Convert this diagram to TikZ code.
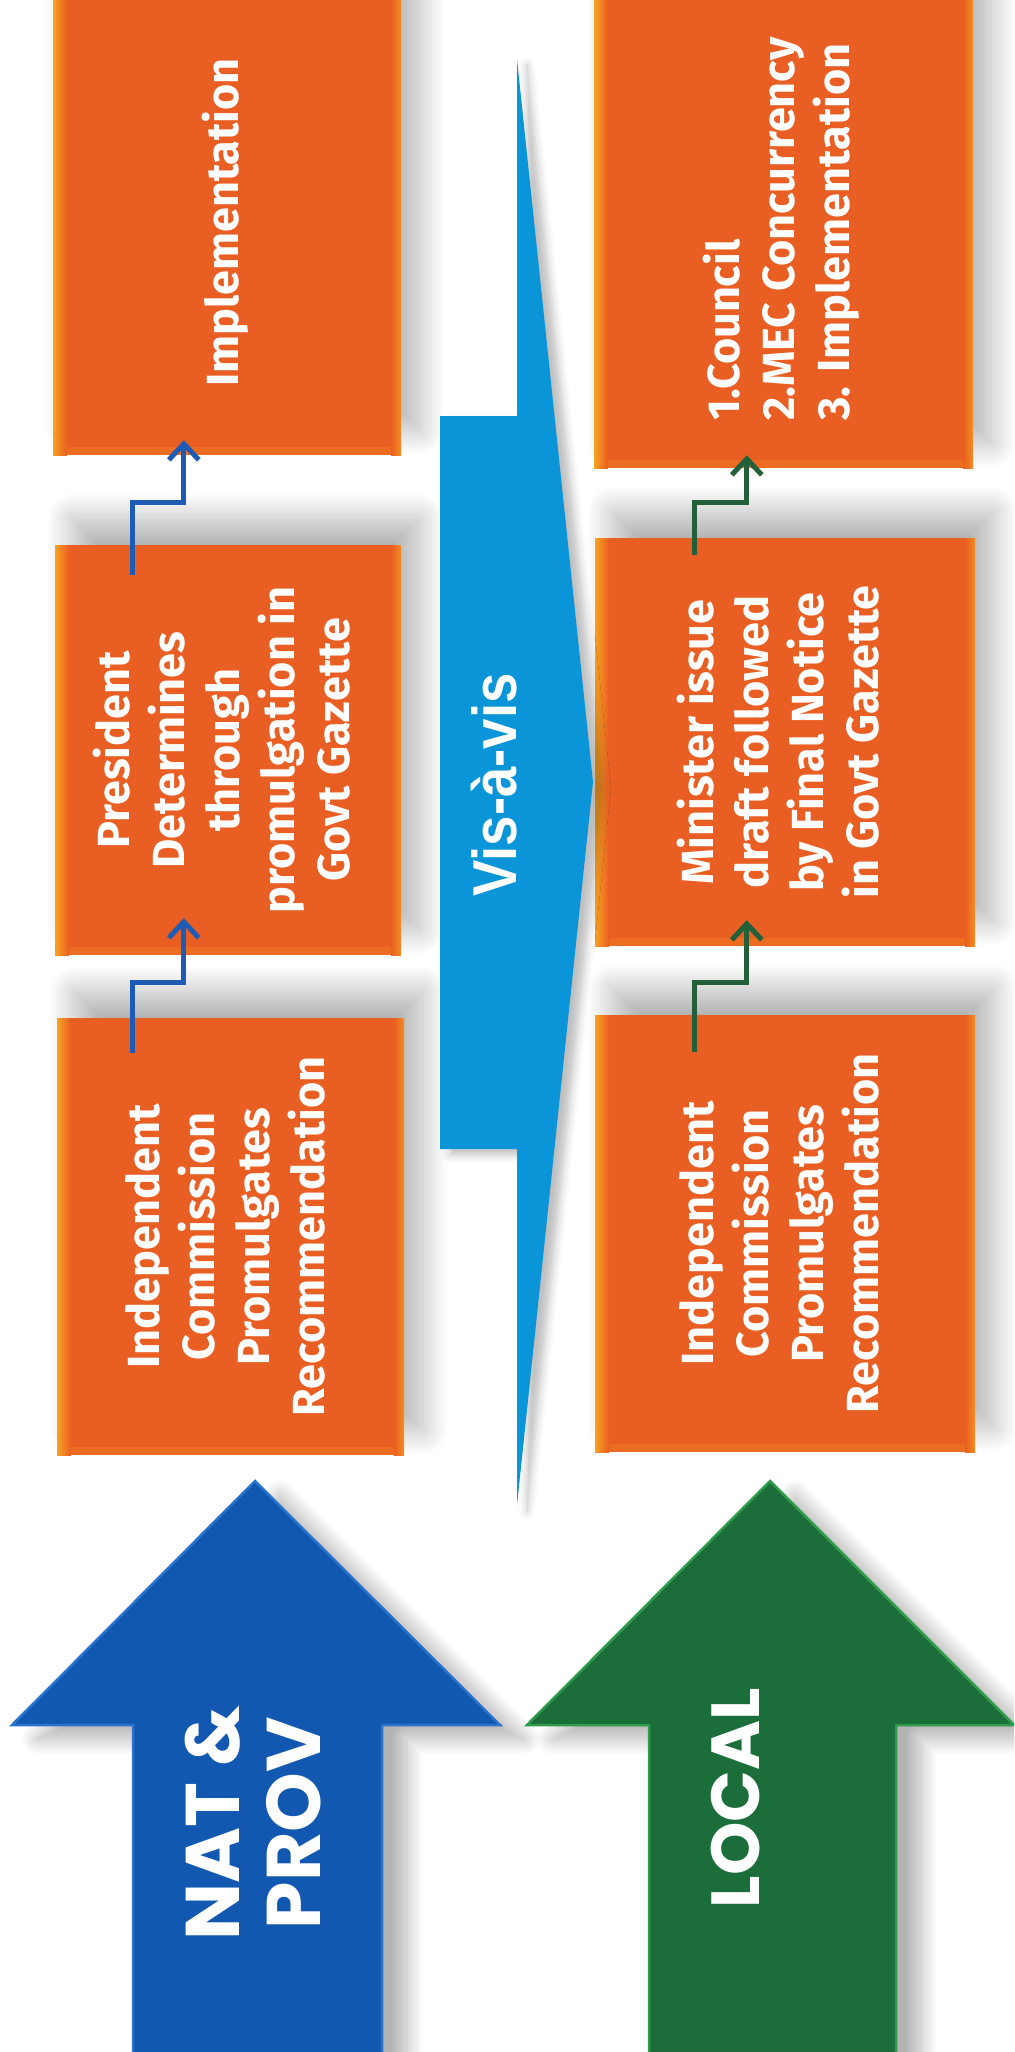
\documentclass[tikz,border=0pt]{standalone}
\usepackage{fontspec}
\setmainfont{Fira Sans}
\newfontfamily\arrowfont{Poppins}
\newfontfamily\visfont{Liberation Sans}
\usepackage{graphicx}
\usetikzlibrary{calc}
\usetikzlibrary{arrows.meta}
\usetikzlibrary{shadows.blur}

\definecolor{boxorange}{HTML}{E95E22}
\definecolor{boxedge}{HTML}{F6A322}
\definecolor{natblue}{HTML}{1257B0}
\definecolor{natedge}{HTML}{2A72CC}
\definecolor{natline}{HTML}{1D5BB4}
\definecolor{visblue}{HTML}{0A95D9}
\definecolor{locgreen}{HTML}{1B6D3A}
\definecolor{locedge}{HTML}{2E9A4B}
\definecolor{locline}{HTML}{235F38}

% rotated text blocks, centred or flush left
\newcommand{\vtext}[1]{\rotatebox{90}{\begin{tabular}{@{}c@{}}#1\end{tabular}}}
\newcommand{\vltext}[1]{\rotatebox{90}{\begin{tabular}{@{}l@{}}#1\end{tabular}}}

\begin{document}
\begin{tikzpicture}[x=1pt,y=-1pt,>={Straight Barb[length=16pt,width=30pt]},
    stepbox/.style={rectangle,inner sep=0pt,fill=boxorange,text=white,
      font=\bfseries\fontsize{45}{55}\selectfont,
      blur shadow={shadow xshift=18pt,shadow yshift=26pt,shadow blur radius=26pt,shadow blur steps=30,shadow opacity=30},
      path picture={
        \fill[boxorange!80!boxedge] (path picture bounding box.south west) rectangle ([yshift=8pt]path picture bounding box.south east);
        \shade[left color=boxedge,right color=boxorange] (path picture bounding box.south west) rectangle ([xshift=14pt]path picture bounding box.north west);
        \shade[left color=boxorange,right color=boxedge!70!boxorange] ([xshift=-10pt]path picture bounding box.south east) rectangle (path picture bounding box.north east);
      }},
    bigarrow/.style={line width=2.5pt,line join=miter,
      blur shadow={shadow xshift=25pt,shadow yshift=-14pt,shadow blur radius=16pt,shadow blur steps=25,shadow opacity=30}},
    biglabel/.style={text=white,inner sep=0pt,font=\arrowfont\bfseries}]
  \useasboundingbox (0,0) rectangle (1014,2052);
  \clip (0,0) rectangle (1014,2052);

  % national and provincial steps
  \node[stepbox,minimum width=348pt,minimum height=465pt] (nat3) at (227,222.5) {\vtext{Implementation}};
  \node[stepbox,minimum width=346pt,minimum height=410pt] (nat2) at (228,750) {\vtext{President\\Determines\\through\\promulgation in\\Govt Gazette}};
  \node[stepbox,minimum width=347pt,minimum height=437pt] (nat1) at (230.5,1236.5) {\vtext{Independent\\Commission\\Promulgates\\Recommendation}};

  % local steps
  \node[stepbox,minimum width=379pt,minimum height=478pt] (loc3) at (783.5,229) {\vltext{1.Council\\2.MEC Concurrency\\3. Implementation}};
  \node[stepbox,minimum width=380pt,minimum height=408pt] (loc2) at (785,742) {\vtext{Minister issue\\draft followed\\by Final Notice\\in Govt Gazette}};
  \node[stepbox,minimum width=380pt,minimum height=437pt] (loc1) at (785,1233.5) {\vtext{Independent\\Commission\\Promulgates\\Recommendation}};

  \draw[->,line width=5pt,color=natline] ($(nat1.north west)+(76,35)$) -- ++(0,-70) -- ++(51,0) -- ($(nat2.south west)+(129,-37)$);
  \draw[->,line width=5pt,color=natline] ($(nat2.north west)+(78,30)$) -- ++(0,-72) -- ++(51,0) -- ($(nat3.south west)+(131,-15)$);
  \draw[->,line width=5pt,color=locline] ($(loc1.north west)+(100,37)$) -- ++(0,-69) -- ++(52,0) -- ($(loc2.south west)+(152,-26)$);
  \draw[->,line width=5pt,color=locline] ($(loc2.north west)+(100,17)$) -- ++(0,-52) -- ++(52,0) -- ($(loc3.south west)+(153,-13)$);

  % vis-a-vis arrow between the two rows
  \fill[visblue,blur shadow={shadow xshift=10pt,shadow yshift=-6pt,shadow blur radius=8pt,shadow opacity=25}]
    (440,416) -- (517,416) -- (517,59) -- (593,782) -- (517,1505) -- (517,1149) -- (440,1149) -- cycle;
  \node[text=white,inner sep=0pt,font=\visfont\bfseries\fontsize{62}{70}\selectfont] (vis) at (494,785) {\rotatebox{90}{\scalebox{.88}[1]{Vis-à-vis}}};

  % level arrows
  \filldraw[bigarrow,fill=natblue,draw=natedge] (133,2070) -- (133,1725) -- (12,1725) -- (255,1481) -- (500,1725) -- (382,1725) -- (382,2070) -- cycle;
  \filldraw[bigarrow,fill=locgreen,draw=locedge] (649,2070) -- (649,1725) -- (527,1725) -- (770,1481) -- (1014,1725) -- (896,1725) -- (896,2070) -- cycle;
  \node[biglabel,font=\arrowfont\bfseries\fontsize{76}{81}\selectfont] (natlabel) at (264,1823) {\vtext{NAT \&\\PROV}};
  \node[biglabel,font=\arrowfont\bfseries\fontsize{68}{81}\selectfont] (loclabel) at (743,1798) {\vtext{LOCAL}};
\end{tikzpicture}
\end{document}
